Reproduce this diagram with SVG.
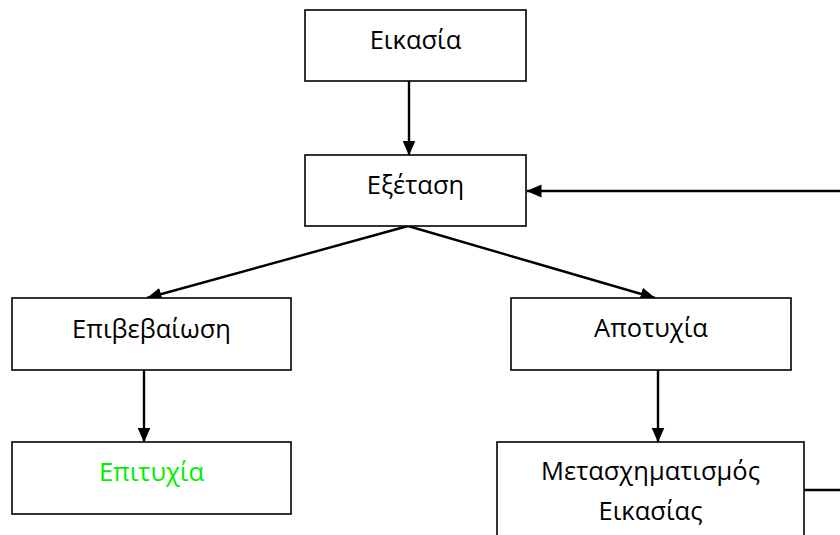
<svg xmlns="http://www.w3.org/2000/svg" width="840" height="535" viewBox="0 0 840 535">
  <style>
    .box { fill: #ffffff; stroke: #000000; stroke-width: 1.6; }
    .label { font-family: "Open Sans", "Noto Sans", "DejaVu Sans", sans-serif; font-size: 25.5px; fill: #000000; text-anchor: middle; }
    .ok { fill: #00ee00; }
    .edge { fill: none; stroke: #000000; stroke-width: 2.4; }
  </style>
  <defs>
    <marker id="arrow" markerUnits="userSpaceOnUse" markerWidth="16" markerHeight="14" refX="14.5" refY="6.5" orient="auto">
      <path d="M0,0 L15,6.5 L0,13 Z" fill="#000000"/>
    </marker>
  </defs>
  <rect width="840" height="535" fill="#ffffff"/>

  <g id="connectors">
    <line class="edge" x1="409" y1="81" x2="409" y2="155" marker-end="url(#arrow)"/>
    <line class="edge" x1="408" y1="226" x2="147" y2="298" marker-end="url(#arrow)"/>
    <line class="edge" x1="408" y1="226" x2="655" y2="298" marker-end="url(#arrow)"/>
    <line class="edge" x1="144" y1="370" x2="144" y2="442" marker-end="url(#arrow)"/>
    <line class="edge" x1="658" y1="370" x2="658" y2="442" marker-end="url(#arrow)"/>
    <!-- feedback loop: leaves the right edge of the sheet and returns -->
    <polyline class="edge" points="804,490 848,490 848,191 527,191" marker-end="url(#arrow)"/>
  </g>

  <g id="eikasia">
    <rect class="box" x="305" y="10" width="221" height="71"/>
    <text class="label" x="415.5" y="49">Εικασία</text>
  </g>
  <g id="exetasi">
    <rect class="box" x="305" y="155" width="221" height="71"/>
    <text class="label" x="415.5" y="194">Εξέταση</text>
  </g>
  <g id="epivevaiosi">
    <rect class="box" x="12" y="298" width="279" height="72"/>
    <text class="label" x="151.5" y="338">Επιβεβαίωση</text>
  </g>
  <g id="apotychia">
    <rect class="box" x="511" y="298" width="280" height="72"/>
    <text class="label" x="651" y="337">Αποτυχία</text>
  </g>
  <g id="epitychia">
    <rect class="box" x="12" y="442" width="279" height="72"/>
    <text class="label ok" x="151.5" y="481">Επιτυχία</text>
  </g>
  <g id="metaschimatismos">
    <rect class="box" x="497" y="442" width="307" height="110"/>
    <text class="label" x="650.5" y="480">Μετασχηματισμός</text>
    <text class="label" x="650.5" y="520">Εικασίας</text>
  </g>
</svg>
